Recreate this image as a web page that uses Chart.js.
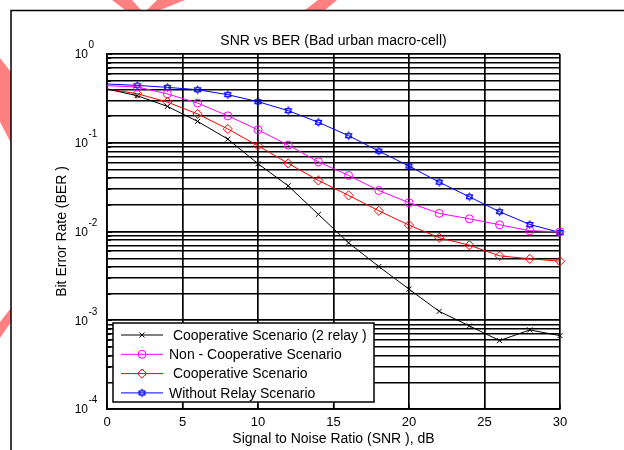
<!DOCTYPE html>
<html>
<head>
<meta charset="utf-8">
<script src="https://cdn.jsdelivr.net/npm/chart.js@4.4.0/dist/chart.umd.min.js"></script>
<style>
  html, body { margin: 0; padding: 0; background: #fff; }
</style>
</head>
<body>
<canvas id="chart" width="624" height="450"></canvas>
<script>
// SNR axis (dB)
const snr = [0, 2, 4, 6, 8, 10, 12, 14, 16, 18, 20, 22, 24, 26, 28, 30];

// BER values
const berCoop2Relay = [0.403, 0.339, 0.257, 0.174, 0.110, 0.058, 0.0327, 0.0156, 0.00745, 0.00403, 0.00224, 0.00126, 0.000863, 0.00059, 0.000778, 0.000671];
const berNonCoop = [0.44, 0.425, 0.355, 0.280, 0.201, 0.140, 0.094, 0.061, 0.0428, 0.029, 0.0211, 0.016, 0.0139, 0.0119, 0.0102, 0.0099];
const berCoop = [0.403, 0.357, 0.287, 0.211, 0.143, 0.0925, 0.0585, 0.0376, 0.0255, 0.0171, 0.0118, 0.0085, 0.0070, 0.00532, 0.00492, 0.00463];
const berNoRelay = [0.459, 0.443, 0.421, 0.396, 0.348, 0.290, 0.230, 0.170, 0.120, 0.0805, 0.0546, 0.036, 0.0246, 0.0167, 0.012, 0.00974];

const seriesLabels = [" Cooperative Scenario (2 relay )", "Non - Cooperative Scenario", " Cooperative Scenario", "Without Relay Scenario"];
const yExponents = [0, -1, -2, -3, -4];
const xTickStep = 5;

const FONT = "'Liberation Sans', Arial, sans-serif";
Chart.defaults.font.family = FONT;
Chart.defaults.color = "#000";

// six-pointed star marker (matlab 'hexagram')
function hexagram(color, r) {
  const size = 2 * r + 3;
  const c = document.createElement("canvas");
  c.width = c.height = size;
  const g = c.getContext("2d");
  const cx = size / 2, cy = size / 2;
  g.strokeStyle = color;
  g.lineWidth = 1;
  [-Math.PI / 2, Math.PI / 2].forEach((off) => {
    g.beginPath();
    for (let k = 0; k < 3; k++) {
      const a = off + (k * 2 * Math.PI) / 3;
      const px = cx + r * Math.cos(a), py = cy + r * Math.sin(a);
      if (k === 0) g.moveTo(px, py); else g.lineTo(px, py);
    }
    g.closePath();
    g.stroke();
  });
  return c;
}

const pts = (vals) => snr.map((x, i) => ({ x: x, y: vals[i] }));
const hideFirst = (r) => (ctx) => (ctx.dataIndex === 0 ? 0 : r);

const datasets = [
  { label: seriesLabels[0], data: pts(berCoop2Relay), borderColor: "#000", pointStyle: "crossRot", radius: 3.6 },
  { label: seriesLabels[1], data: pts(berNonCoop), borderColor: "#ff00ff", pointStyle: "circle", radius: 4 },
  { label: seriesLabels[2], data: pts(berCoop), borderColor: "#ff0000", pointStyle: "rectRot", radius: 4.6 },
  { label: seriesLabels[3], data: pts(berNoRelay), borderColor: "#0000ff", pointStyle: hexagram("#0000ff", 4), radius: 4 },
].map((d) => ({
  label: d.label,
  data: d.data,
  borderColor: d.borderColor,
  backgroundColor: "rgba(0,0,0,0)",
  borderWidth: 1,
  pointStyle: d.pointStyle,
  pointRadius: hideFirst(d.radius),
  legendRadius: d.radius,
  pointBorderColor: d.borderColor,
  pointBackgroundColor: "rgba(0,0,0,0)",
  pointBorderWidth: 1,
  tension: 0,
  clip: false,
}));

const decor = {
  id: "decor",
  beforeDraw(chart) {
    const ctx = chart.ctx;
    ctx.save();
    ctx.fillStyle = "#fff";
    ctx.fillRect(0, 0, chart.width, chart.height);
    // watermark bits peeking round the frame
    ctx.fillStyle = "#ff8080";
    [
      [[112, 0], [132, 0], [141, 10], [125, 10]],
      [[157, 0], [185, 0], [160, 10], [147, 10]],
      [[318, 0], [337, 0], [325, 10], [305, 10]],
      [[0, 58], [11, 72], [11, 143], [0, 122]],
      [[11, 308], [11, 322], [0, 338], [0, 322]],
    ].forEach((poly) => {
      ctx.beginPath();
      poly.forEach(([x, y], i) => (i ? ctx.lineTo(x, y) : ctx.moveTo(x, y)));
      ctx.closePath();
      ctx.fill();
    });
    // figure frame
    ctx.strokeStyle = "#000";
    ctx.lineWidth = 1.5;
    ctx.beginPath();
    ctx.moveTo(11, chart.height);
    ctx.lineTo(11, 10.5);
    ctx.lineTo(chart.width, 10.5);
    ctx.stroke();
    ctx.restore();
  },
  afterDatasetsDraw(chart) {
    const ctx = chart.ctx;
    const lg = { left: 113, top: 323, right: 374, bottom: 402 };
    ctx.save();
    ctx.fillStyle = "#fff";
    ctx.fillRect(lg.left, lg.top, lg.right - lg.left, lg.bottom - lg.top);
    ctx.strokeStyle = "#000";
    ctx.lineWidth = 1.5;
    ctx.strokeRect(lg.left, lg.top, lg.right - lg.left, lg.bottom - lg.top);
    chart.data.datasets.forEach((ds, i) => {
      const y = lg.top + 12 + i * 19.3;
      ctx.strokeStyle = ds.borderColor;
      ctx.lineWidth = 1;
      ctx.beginPath();
      ctx.moveTo(121, y);
      ctx.lineTo(163, y);
      ctx.stroke();
      ctx.fillStyle = "rgba(0,0,0,0)";
      Chart.helpers.drawPoint(ctx, { pointStyle: ds.pointStyle, radius: ds.legendRadius, rotation: 0, borderWidth: 1 }, 142, y);
      ctx.fillStyle = "#000";
      ctx.font = "14px " + FONT;
      ctx.textAlign = "left";
      ctx.textBaseline = "middle";
      ctx.fillText(ds.label, 169, y + 1);
    });
    ctx.restore();
  },
  afterDraw(chart) {
    const ctx = chart.ctx;
    const area = chart.chartArea;
    const ys = chart.scales.y;
    const xs = chart.scales.x;
    ctx.save();
    // title
    ctx.fillStyle = "#000";
    ctx.font = "14px " + FONT;
    ctx.textAlign = "center";
    ctx.textBaseline = "middle";
    ctx.fillText("SNR vs BER (Bad urban macro-cell)", (area.left + area.right) / 2, 41);
    // y tick labels 10^n
    yExponents.forEach((e) => {
      const y = ys.getPixelForValue(Math.pow(10, e));
      ctx.font = "12px " + FONT;
      ctx.textAlign = "right";
      ctx.fillText("10", 88, y + 1);
      ctx.font = "10px " + FONT;
      ctx.textAlign = "left";
      ctx.fillText(String(e), 88.5, y - 8.5);
    });
    // inward tick marks
    ctx.strokeStyle = "#000";
    ctx.lineWidth = 1.2;
    ctx.beginPath();
    ys.ticks.forEach((t) => {
      const y = Math.round(ys.getPixelForValue(t.value)) + 0.5;
      ctx.moveTo(area.left, y);
      ctx.lineTo(area.left + (t.major ? 5 : 4), y);
    });
    xs.ticks.forEach((t) => {
      const x = xs.getPixelForValue(t.value);
      ctx.moveTo(x, area.bottom);
      ctx.lineTo(x, area.bottom - 5);
    });
    ctx.stroke();
    ctx.restore();
  },
};

new Chart(document.getElementById("chart"), {
  type: "line",
  data: { datasets: datasets },
  options: {
    responsive: false,
    animation: false,
    layout: { padding: { top: 54, right: 64, left: 0, bottom: 0 } },
    plugins: { legend: { display: false }, tooltip: { enabled: false }, title: { display: false } },
    scales: {
      x: {
        type: "linear",
        min: 0,
        max: 30,
        ticks: { stepSize: xTickStep, font: { size: 13 }, color: "#000", padding: 6, maxRotation: 0 },
        grid: { color: "#000", lineWidth: 1.7, drawTicks: false },
        border: { display: true, color: "#000", width: 1.7 },
        title: { display: true, text: "Signal to Noise Ratio (SNR ), dB", font: { size: 14 }, color: "#000", padding: { top: 0, bottom: 2 } },
        afterFit: (s) => { s.height = 41; },
      },
      y: {
        type: "logarithmic",
        min: 1e-4,
        max: 1,
        ticks: { display: false, autoSkip: false },
        afterBuildTicks: (scale) => {
          const t = [];
          yExponents.forEach((e) => {
            for (let k = 1; k < 10; k++) {
              const v = k * Math.pow(10, e);
              if (v <= 1.000001) t.push({ value: v, major: k === 1 });
            }
          });
          scale.ticks = t;
        },
        grid: { color: "#000", lineWidth: (c) => (c.tick && c.tick.major ? 1.7 : 1.4), drawTicks: false },
        border: { display: true, color: "#000", width: 1.7 },
        title: { display: true, text: "Bit Error Rate (BER )", font: { size: 14 }, color: "#000", padding: { top: 54, bottom: 0 } },
        afterFit: (s) => { s.width = 107; },
      },
    },
  },
  plugins: [decor],
});
</script>
</body>
</html>
